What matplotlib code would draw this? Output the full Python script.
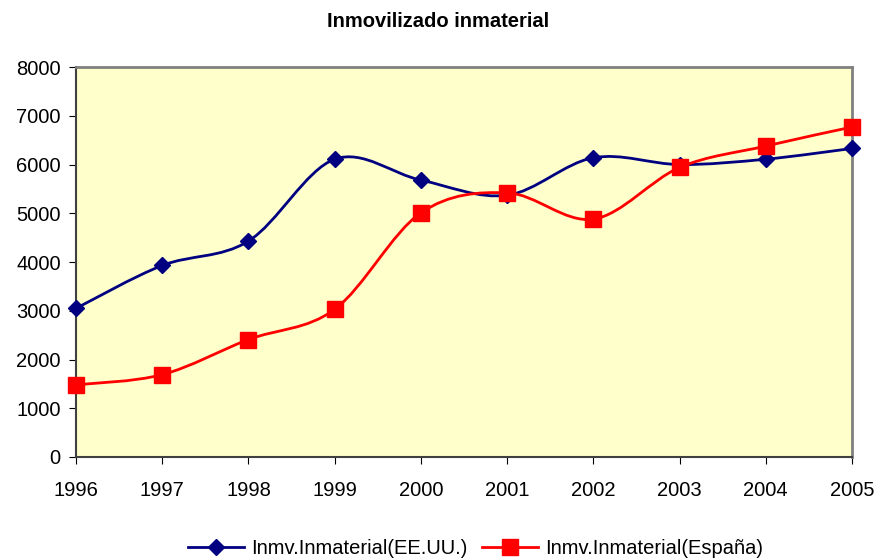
import matplotlib
matplotlib.use("Agg")
import matplotlib.pyplot as plt
import numpy as np
from matplotlib.path import Path
from matplotlib.patches import PathPatch
from matplotlib.lines import Line2D

plt.rcParams['font.family'] = ['Liberation Sans', 'DejaVu Sans']

years = [1996, 1997, 1998, 1999, 2000, 2001, 2002, 2003, 2004, 2005]
eeuu = [3050, 3930, 4430, 6110, 5680, 5370, 6140, 6000, 6110, 6330]
espana = [1480, 1690, 2410, 3030, 5010, 5420, 4880, 5940, 6380, 6770]


def smooth_path(x, y):
    # curva suavizada tipo Excel (Bezier cubica)
    x = np.asarray(x, float)
    y = np.asarray(y, float)
    n = len(x)
    verts = [(x[0], y[0])]
    codes = [Path.MOVETO]
    for i in range(n - 1):
        p0 = np.array([x[max(i - 1, 0)], y[max(i - 1, 0)]])
        p1 = np.array([x[i], y[i]])
        p2 = np.array([x[i + 1], y[i + 1]])
        p3 = np.array([x[min(i + 2, n - 1)], y[min(i + 2, n - 1)]])
        c1 = p1 + (p2 - p0) / 6.0
        c2 = p2 - (p3 - p1) / 6.0
        verts += [tuple(c1), tuple(c2), tuple(p2)]
        codes += [Path.CURVE4] * 3
    return Path(verts, codes)


fig = plt.figure(figsize=(8.77, 5.59), dpi=100)
ax = fig.add_axes([0.0867, 0.1825, 0.8848, 0.6975])
ax.set_facecolor('#FFFFCC')

ax.add_patch(PathPatch(smooth_path(years, eeuu), fill=False, color='#000080', lw=2, zorder=3))
ax.add_patch(PathPatch(smooth_path(years, espana), fill=False, color='#FF0000', lw=2, zorder=3))
ax.plot(years, eeuu, ls='none', marker='D', ms=8.5, color='#000080', zorder=4, clip_on=False)
ax.plot(years, espana, ls='none', marker='s', ms=11, color='#FF0000', zorder=5, clip_on=False)

ax.set_xlim(1996, 2005)
ax.set_ylim(0, 8000)
ax.set_xticks(years)
ax.set_yticks(range(0, 8001, 1000))
ax.tick_params(labelsize=14.5, length=5, color='black')
ax.tick_params(axis='x', pad=12)
ax.tick_params(axis='y', pad=6)
for s in ['top', 'right']:
    ax.spines[s].set_color('#808080')
    ax.spines[s].set_linewidth(2)
for s in ['left', 'bottom']:
    ax.spines[s].set_color('#404040')
    ax.spines[s].set_linewidth(1.5)

fig.suptitle('Inmovilizado inmaterial', fontsize=14.5, fontweight='bold', y=0.978)

handles = [
    Line2D([], [], color='#000080', lw=2, marker='D', ms=8.5),
    Line2D([], [], color='#FF0000', lw=2, marker='s', ms=11),
]
fig.legend(handles, ['Inmv.Inmaterial(EE.UU.)', 'Inmv.Inmaterial(España)'],
           loc='lower center', bbox_to_anchor=(0.542, -0.03), ncol=2, frameon=False,
           fontsize=14.5, handlelength=2.8, columnspacing=0.7, handletextpad=0.35)

fig.savefig('out.png', dpi=100)
